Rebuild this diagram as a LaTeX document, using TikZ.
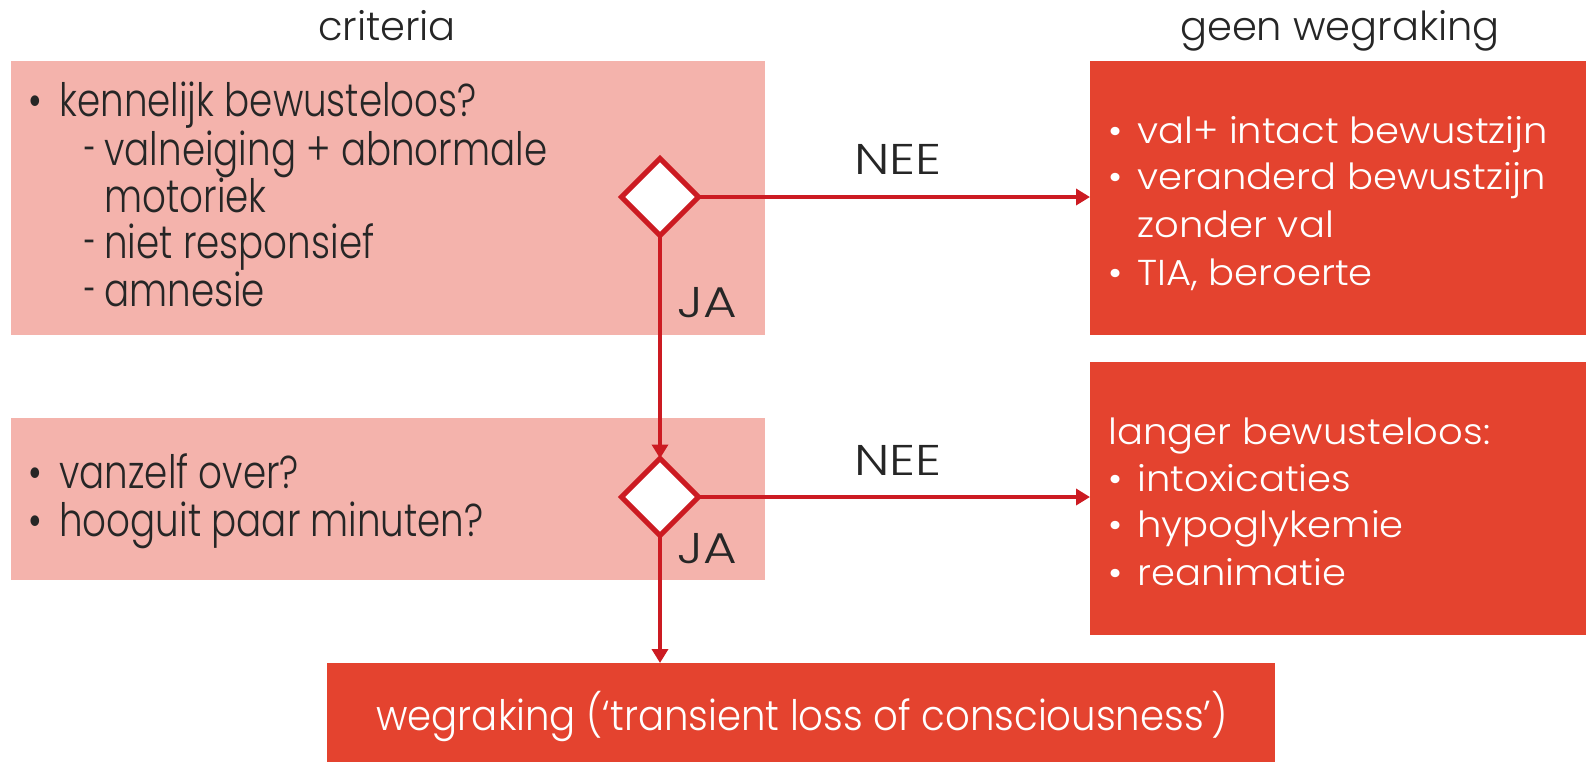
\documentclass[tikz,border=0pt]{standalone}
\usepackage{fontspec}
\setmainfont{Poppins}
\newfontfamily\leftfnt[FakeStretch=0.81]{Poppins Light}
\newfontfamily\rightfnt[FakeStretch=1.07]{Poppins Light}
\newfontfamily\headfnt{Poppins Light}
\newfontfamily\labfnt[FakeStretch=1.2]{Poppins Light}
\newfontfamily\wegfnt[FakeStretch=0.92]{Poppins Light}
\usetikzlibrary{shapes.geometric,arrows.meta}
\definecolor{pinkbg}{HTML}{F4B3AC}
\definecolor{redbg}{HTML}{E4432F}
\definecolor{lnred}{HTML}{CC1B22}
\definecolor{txt}{HTML}{262626}
\begin{document}
\begin{tikzpicture}[x=0.5pt,y=-0.5pt,
  pinkbox/.style={rectangle,fill=pinkbg,inner sep=0,outer sep=0},
  redbox/.style={rectangle,fill=redbg,inner sep=0,outer sep=0},
  dec/.style={diamond,aspect=1,fill=white,draw=lnred,line width=2.5pt,minimum size=38.5pt,inner sep=0,outer sep=0},
  arr/.style={draw=lnred,line width=2pt,-{Triangle[width=8pt,length=7pt]}},
  lt/.style={anchor=base west,inner sep=0,text=txt,font=\leftfnt\fontsize{23}{26}\selectfont},
  rt/.style={anchor=base west,inner sep=0,text=white,font=\rightfnt\fontsize{18}{23}\selectfont},
  head/.style={anchor=base,inner sep=0,text=txt,font=\headfnt\fontsize{20}{24}\selectfont},
  lab/.style={anchor=base,inner sep=0,text=txt,font=\labfnt\fontsize{21.5}{24}\selectfont}]
\useasboundingbox (0,0) rectangle (1586,762);
% boxes
\node[pinkbox,minimum width=377pt,minimum height=137pt] (b1) at (388,198) {};
\node[redbox,minimum width=248pt,minimum height=137pt] (b2) at (1338,198) {};
\node[pinkbox,minimum width=377pt,minimum height=81pt] (b3) at (388,499) {};
\node[redbox,minimum width=248pt,minimum height=136.5pt] (b4) at (1338,498.5) {};
\node[redbox,minimum width=474pt,minimum height=49.5pt] (b5) at (801,712.5) {};
% headers
\node[head] (h1) at (387,40) {criteria};
\node[head] (h2) at (1340,40) {geen wegraking};
% box1 text
\node[lt] (t1a) at (28,116) {\textbullet};
\node[lt] (t1b) at (59,116) {kennelijk bewusteloos?};
\node[lt] (t1c) at (84,165) {\scalebox{0.6}[1]{-}};
\node[lt] (t1d) at (104,165) {valneiging + abnormale};
\node[lt] (t1e) at (104,212) {motoriek};
\node[lt] (t1f) at (84,258) {\scalebox{0.6}[1]{-}};
\node[lt] (t1g) at (104,258) {niet responsief};
\node[lt] (t1h) at (84,306) {\scalebox{0.6}[1]{-}};
\node[lt] (t1i) at (104,306) {amnesie};
% box3 text
\node[lt] (t3a) at (28,488) {\textbullet};
\node[lt] (t3b) at (59,488) {vanzelf over?};
\node[lt] (t3c) at (28,536) {\textbullet};
\node[lt] (t3d) at (59,536) {hooguit paar minuten?};
% box2 text
\node[rt] (t2a) at (1108,143) {\textbullet};
\node[rt] (t2b) at (1137,143) {val+ intact bewustzijn};
\node[rt] (t2c) at (1108,189) {\textbullet};
\node[rt] (t2d) at (1137,189) {veranderd bewustzijn};
\node[rt] (t2e) at (1137,237) {zonder val};
\node[rt] (t2f) at (1108,285) {\textbullet};
\node[rt] (t2g) at (1137,285) {TIA, beroerte};
% box4 text
\node[rt] (t4a) at (1108,444) {langer bewusteloos:};
\node[rt] (t4b) at (1108,491) {\textbullet};
\node[rt] (t4c) at (1137,491) {intoxicaties};
\node[rt] (t4d) at (1108,537) {\textbullet};
\node[rt] (t4e) at (1137,537) {hypoglykemie};
\node[rt] (t4f) at (1108,585) {\textbullet};
\node[rt] (t4g) at (1137,585) {reanimatie};
% box5 text
\node[anchor=base,inner sep=0,text=white,font=\wegfnt\fontsize{21}{24}\selectfont] (t5) at (802,730) {wegraking (‘transient loss of consciousness’)};
% decisions
\node[dec] (d1) at (660,197) {};
\node[dec] (d2) at (660,497) {};
% connectors
\draw[arr] (d1.east) -- (d1.east -| b2.west);
\draw[arr] (d2.east) -- (d2.east -| b4.west);
\draw[arr] (d1.south) -- (d2.north);
\draw[arr] (d2.south) -- (d2.south |- b5.north);
% labels
\node[lab] (n1) at (898,174) {NEE};
\node[lab] (n2) at (898,475) {NEE};
\node[lab] (j1) at (707,317) {JA};
\node[lab] (j2) at (707,563) {JA};
\end{tikzpicture}
\end{document}
